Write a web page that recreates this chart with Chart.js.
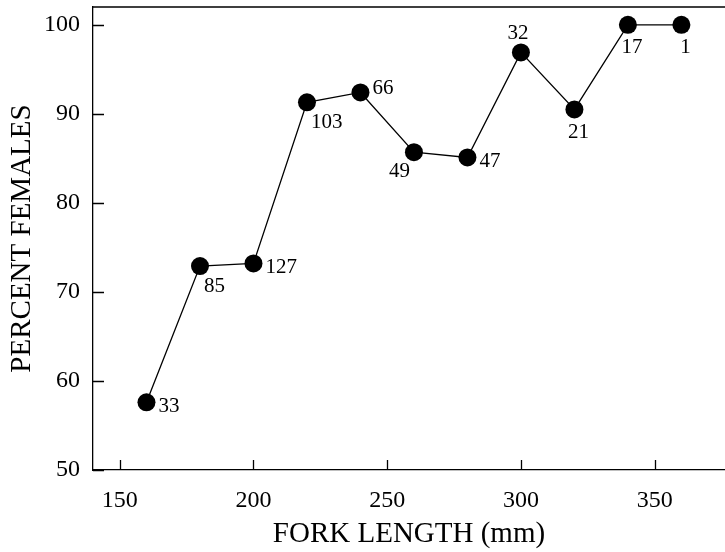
<!DOCTYPE html>
<html>
<head>
<meta charset="utf-8">
<script src="https://cdn.jsdelivr.net/npm/chart.js@4.4.0/dist/chart.umd.min.js"></script>
<style>
  html, body { margin: 0; padding: 0; background: #fff; }
  #wrap { width: 725px; height: 552px; }
</style>
</head>
<body>
<div id="wrap"><canvas id="sexRatioChart"></canvas></div>
<script>
// fork length classes (mm) and percent females in each class
const forkLength = [160, 180, 200, 220, 240, 260, 280, 300, 320, 340, 360];
const percentFemales = [57.6, 72.9, 73.2, 91.3, 92.4, 85.7, 85.1, 96.9, 90.5, 100, 100];
// number of fish sampled per class
const sampleSize = [33, 85, 127, 103, 66, 49, 47, 32, 21, 17, 1];

const xTicks = [150, 200, 250, 300, 350];
const yTicks = [50, 60, 70, 80, 90, 100];

// where each n label sits next to its point
const labelSpot = ['right', 'belowRight', 'right', 'belowRight', 'rightUp', 'belowLeft', 'right', 'above', 'below', 'below', 'below'];
const spots = {
    right:      { dx: 12, dy: 4,   align: 'left' },
    rightUp:    { dx: 12, dy: -4,  align: 'left' },
    belowRight: { dx: 4,  dy: 20,  align: 'left' },
    belowLeft:  { dx: -4, dy: 19,  align: 'right' },
    above:      { dx: -3, dy: -19, align: 'center' },
    below:      { dx: 4,  dy: 23,  align: 'center' }
};

const serif = 'Liberation Serif, Times New Roman, serif';

// top frame line, inward tick marks and the sample size labels
const frameAndLabels = {
    id: 'frameAndLabels',
    afterDatasetsDraw(chart) {
        const { ctx, chartArea, scales } = chart;
        ctx.save();
        ctx.strokeStyle = '#000';
        ctx.lineWidth = 1.3;
        ctx.beginPath();
        ctx.moveTo(chartArea.left, chartArea.top);
        ctx.lineTo(chartArea.right, chartArea.top);
        scales.x.ticks.forEach(t => {
            const px = Math.round(scales.x.getPixelForValue(t.value)) + 0.5;
            ctx.moveTo(px, chartArea.bottom);
            ctx.lineTo(px, chartArea.bottom - 10);
        });
        scales.y.ticks.forEach(t => {
            const py = Math.round(scales.y.getPixelForValue(t.value)) + 0.5;
            ctx.moveTo(chartArea.left, py);
            ctx.lineTo(chartArea.left + 11, py);
        });
        ctx.stroke();

        ctx.fillStyle = '#000';
        ctx.font = '21px ' + serif;
        ctx.textBaseline = 'middle';
        chart.getDatasetMeta(0).data.forEach((pt, i) => {
            const s = spots[labelSpot[i]];
            ctx.textAlign = s.align;
            ctx.fillText(String(sampleSize[i]), pt.x + s.dx, pt.y + s.dy);
        });
        ctx.restore();
    }
};

const chartData = {
    datasets: [{
        data: forkLength.map((x, i) => ({ x: x, y: percentFemales[i] })),
        borderColor: '#000',
        borderWidth: 1.3,
        backgroundColor: '#000',
        pointRadius: 9,
        pointHoverRadius: 9,
        pointBackgroundColor: '#000',
        pointBorderWidth: 0,
        showLine: true,
        tension: 0
    }]
};

const chartConfig = {
    type: 'scatter',
    data: chartData,
    plugins: [frameAndLabels],
    options: {
        responsive: true,
        maintainAspectRatio: false,
        animation: false,
        layout: { autoPadding: false, padding: { top: 7, right: 0, left: 0, bottom: 0 } },
        plugins: {
            legend: { display: false },
            tooltip: { enabled: false }
        },
        scales: {
            x: {
                type: 'linear',
                min: 140,
                max: 376.3,
                afterBuildTicks: s => { s.ticks = xTicks.map(v => ({ value: v })); },
                afterFit: s => { s.height = 82; s.paddingLeft = 0; s.paddingRight = 0; },
                grid: { display: false },
                border: { display: true, color: '#000', width: 1.3 },
                ticks: { color: '#000', font: { family: serif, size: 24 }, padding: 8, maxRotation: 0 },
                title: {
                    display: true,
                    text: 'FORK LENGTH (mm)',
                    color: '#000',
                    font: { family: serif, size: 29 },
                    padding: { top: 0, bottom: 0 }
                }
            },
            y: {
                type: 'linear',
                min: 50,
                max: 102,
                afterBuildTicks: s => { s.ticks = yTicks.map(v => ({ value: v })); },
                // keep the plot box flush with the layout padding
                afterFit: s => { s.width = 93; s.paddingTop = 0; s.paddingBottom = 0; },
                grid: { display: false },
                border: { display: true, color: '#000', width: 1.3 },
                ticks: { color: '#000', font: { family: serif, size: 24 }, padding: 5 },
                title: {
                    display: true,
                    text: 'PERCENT FEMALES',
                    color: '#000',
                    font: { family: serif, size: 29 },
                    padding: { top: 5, bottom: 0 }
                }
            }
        }
    }
};

const sexRatioChart = new Chart(document.getElementById('sexRatioChart'), chartConfig);
</script>
</body>
</html>
